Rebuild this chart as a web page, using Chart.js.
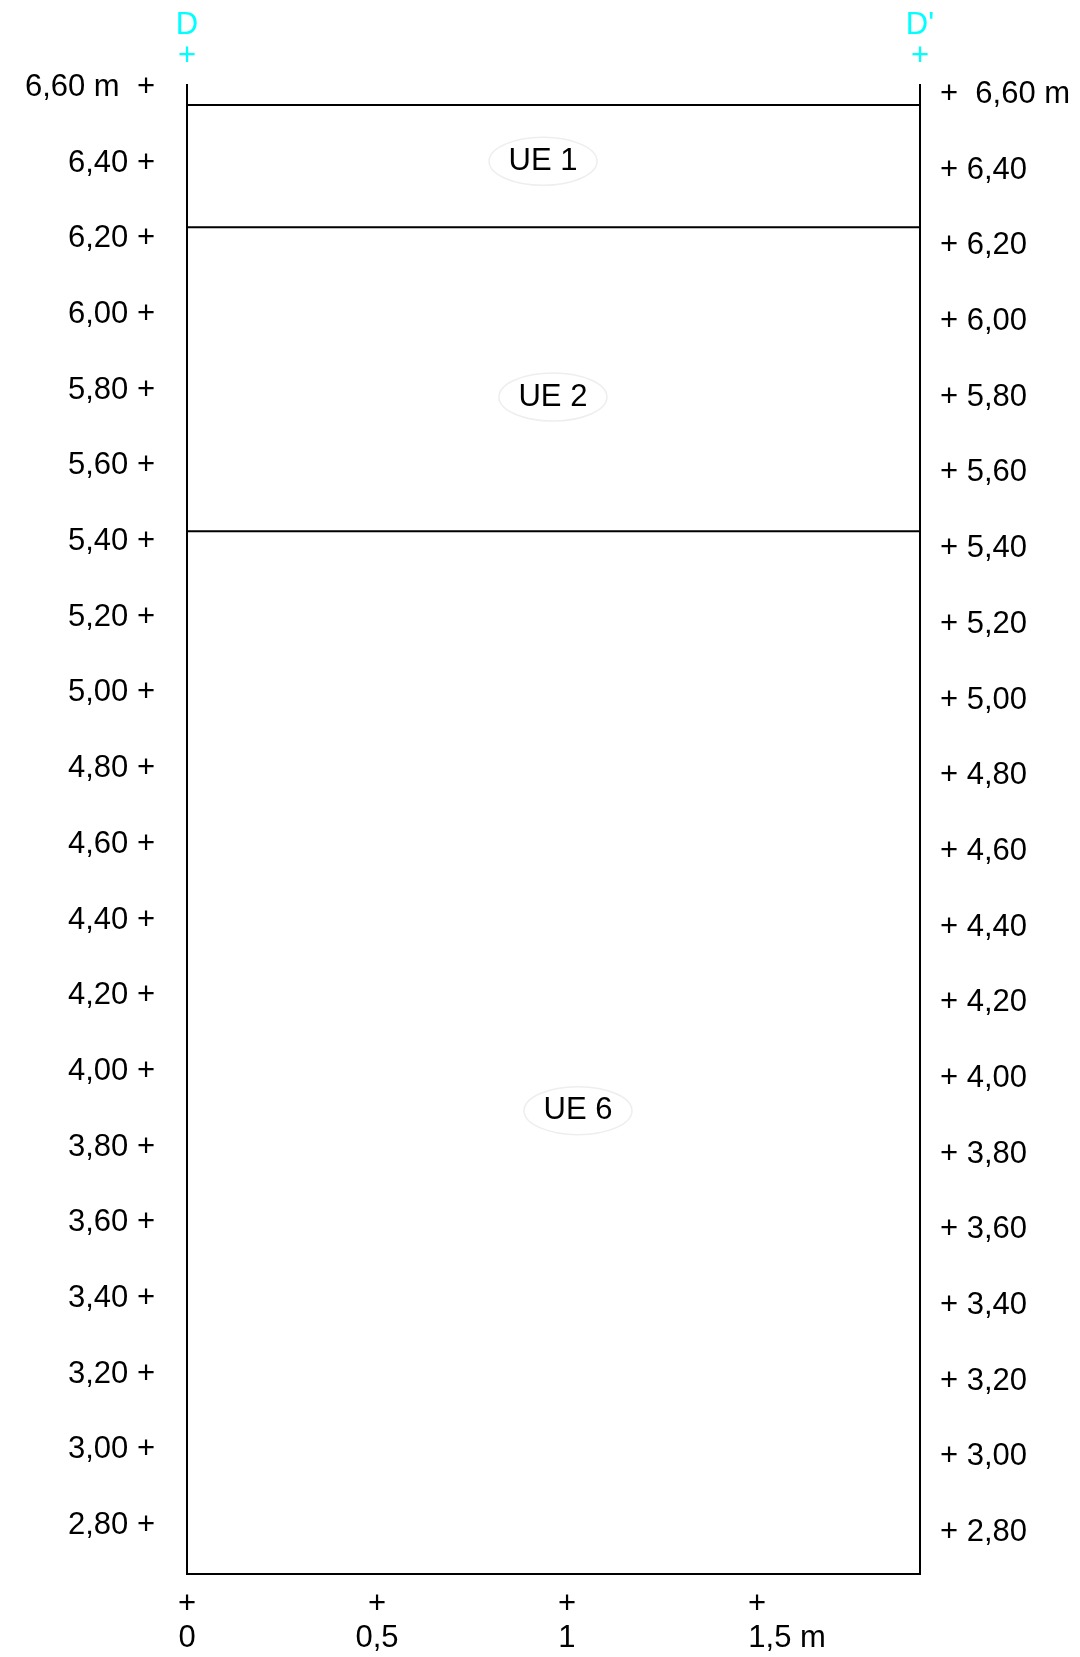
<!DOCTYPE html>
<html>
<head>
<meta charset="utf-8">
<title>Coupe D-D'</title>
<script src="https://cdn.jsdelivr.net/npm/chart.js@4.4.1/dist/chart.umd.min.js"></script>
<style>
    html, body { margin: 0; padding: 0; background: #fff; }
    #wrap { position: relative; width: 1080px; height: 1657px; }
</style>
</head>
<body>
<div id="wrap"><canvas id="section"></canvas></div>
<script>
// Depth scale ticks (m)
const yTickValues = [2.8, 3.0, 3.2, 3.4, 3.6, 3.8, 4.0, 4.2, 4.4, 4.6, 4.8, 5.0, 5.2, 5.4, 5.6, 5.8, 6.0, 6.2, 6.4, 6.6];
const yTickLabels = ['2,80', '3,00', '3,20', '3,40', '3,60', '3,80', '4,00', '4,20', '4,40', '4,60', '4,80', '5,00', '5,20', '5,40', '5,60', '5,80', '6,00', '6,20', '6,40', '6,60 m'];

// Horizontal scale ticks (m)
const xTickValues = [0, 0.5, 1, 1.5];
const xTickLabels = ['0', '0,5', '1', '1,5 m'];

// Section ends
const sectionEnds = [0, 1.929];
const sectionEndLabels = ['D', "D'"];

// Layer boundaries (m)
const layerLines = [6.554, 6.231, 5.427];

// Stratigraphic units
const ueNames = ['UE 1', 'UE 2', 'UE 6'];
const ueX = [0.937, 0.963, 1.029];
const ueY = [6.405, 5.782, 3.896];

const FONT = 'Liberation Sans, Arial, sans-serif';

const ueLabelsPlugin = {
    id: 'ueLabels',
    afterDatasetsDraw(chart) {
        const ctx = chart.ctx;
        const xs = chart.scales.x;
        const ys = chart.scales.y;
        ctx.save();
        ueNames.forEach((name, i) => {
            const px = xs.getPixelForValue(ueX[i]);
            const py = ys.getPixelForValue(ueY[i]);
            ctx.beginPath();
            ctx.ellipse(px, py, 54, 24, 0, 0, Math.PI * 2);
            ctx.strokeStyle = '#eeeeee';
            ctx.lineWidth = 1.5;
            ctx.stroke();
            ctx.fillStyle = '#000';
            ctx.font = '31px ' + FONT;
            ctx.textAlign = 'center';
            ctx.textBaseline = 'middle';
            ctx.fillText(name, px, py);
        });
        ctx.restore();
    }
};

const datasets = layerLines.map(v => ({
    data: [{ x: sectionEnds[0], y: v }, { x: sectionEnds[1], y: v }],
    showLine: true,
    borderColor: '#000',
    borderWidth: 2,
    pointRadius: 0,
    xAxisID: 'x',
    yAxisID: 'y'
}));

const spanY = 3.935;

new Chart(document.getElementById('section'), {
    type: 'scatter',
    data: { datasets: datasets },
    options: {
        responsive: true,
        maintainAspectRatio: false,
        animation: false,
        layout: { padding: 0 },
        plugins: {
            legend: { display: false },
            tooltip: { enabled: false }
        },
        scales: {
            x: {
                type: 'linear',
                position: 'bottom',
                min: sectionEnds[0],
                max: sectionEnds[1],
                grid: { display: false, drawTicks: false },
                border: { display: true, color: '#000', width: 2 },
                afterBuildTicks: s => { s.ticks = xTickValues.map(v => ({ value: v })); },
                afterFit: s => { s.height = 83; },
                ticks: {
                    autoSkip: false,
                    maxRotation: 0,
                    padding: 13,
                    color: '#000',
                    font: { family: FONT, size: 31, lineHeight: '34px' },
                    callback: (v, i) => {
                        const lbl = xTickLabels[i];
                        return i === xTickLabels.length - 1 ? ['+', '\u00a0'.repeat(7) + lbl] : ['+', lbl];
                    }
                }
            },
            xTop: {
                type: 'linear',
                position: 'top',
                min: sectionEnds[0],
                max: sectionEnds[1],
                grid: { display: false, drawTicks: false },
                border: { display: false },
                afterBuildTicks: s => { s.ticks = sectionEnds.map(v => ({ value: v })); },
                afterFit: s => { s.height = 85; },
                ticks: {
                    autoSkip: false,
                    maxRotation: 0,
                    padding: 13,
                    color: '#00ffff',
                    font: { family: FONT, size: 31, lineHeight: '31px' },
                    callback: (v, i) => [sectionEndLabels[i], '+']
                }
            },
            y: {
                type: 'linear',
                position: 'left',
                min: 6.6066 - spanY,
                max: 6.6066,
                grid: { display: false, drawTicks: false },
                border: { display: true, color: '#000', width: 2 },
                afterBuildTicks: s => { s.ticks = yTickValues.map(v => ({ value: v })); },
                afterFit: s => { s.width = 187; },
                ticks: {
                    autoSkip: false,
                    padding: 32,
                    color: '#000',
                    font: { family: FONT, size: 31 },
                    callback: (v, i) => i === yTickLabels.length - 1 ? yTickLabels[i] + '\u00a0 +' : yTickLabels[i] + ' +'
                }
            },
            y2: {
                type: 'linear',
                position: 'right',
                min: 6.6252 - spanY,
                max: 6.6252,
                grid: { display: false, drawTicks: false },
                border: { display: true, color: '#000', width: 2 },
                afterBuildTicks: s => { s.ticks = yTickValues.map(v => ({ value: v })); },
                afterFit: s => { s.width = 160; },
                ticks: {
                    autoSkip: false,
                    padding: 20,
                    color: '#000',
                    font: { family: FONT, size: 31 },
                    callback: (v, i) => i === yTickLabels.length - 1 ? '+\u00a0 ' + yTickLabels[i] : '+ ' + yTickLabels[i]
                }
            }
        }
    },
    plugins: [ueLabelsPlugin]
});
</script>
</body>
</html>
